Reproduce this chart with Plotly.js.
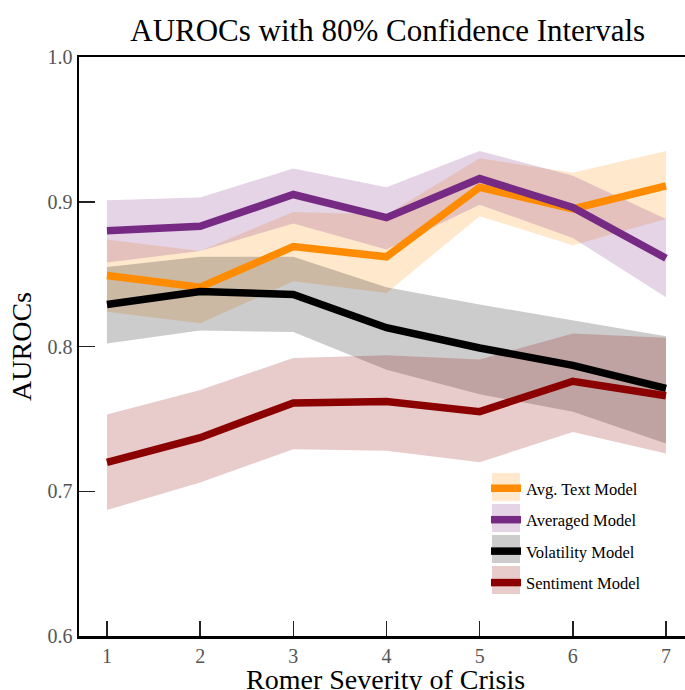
<!DOCTYPE html>
<html><head><meta charset="utf-8">
<script src="https://cdn.plot.ly/plotly-3.0.1.min.js"></script>
<style>html,body{margin:0;padding:0;background:#fff;} #chart{width:685px;height:690px;}</style>
</head><body><div id="chart"></div>
<script>
// ---- data ----
const severity = [1, 2, 3, 4, 5, 6, 7];
const seriesNames = ["Avg. Text Model", "Averaged Model", "Volatility Model", "Sentiment Model"];

const avgTextMean  = [0.849, 0.841, 0.869, 0.862, 0.910, 0.895, 0.911];
const avgTextLow   = [0.824, 0.816, 0.845, 0.837, 0.890, 0.870, 0.888];
const avgTextHigh  = [0.874, 0.866, 0.893, 0.891, 0.930, 0.920, 0.935];

const averagedMean = [0.880, 0.883, 0.905, 0.889, 0.916, 0.896, 0.861];
const averagedLow  = [0.858, 0.866, 0.885, 0.867, 0.898, 0.875, 0.834];
const averagedHigh = [0.901, 0.903, 0.923, 0.910, 0.935, 0.918, 0.888];

const volMean      = [0.829, 0.838, 0.836, 0.813, 0.799, 0.787, 0.771];
const volLow       = [0.802, 0.811, 0.810, 0.784, 0.767, 0.755, 0.733];
const volHigh      = [0.855, 0.862, 0.862, 0.841, 0.829, 0.818, 0.807];

const sentMean     = [0.720, 0.737, 0.761, 0.762, 0.755, 0.776, 0.766];
const sentLow      = [0.687, 0.706, 0.729, 0.728, 0.720, 0.741, 0.726];
const sentHigh     = [0.753, 0.770, 0.792, 0.794, 0.791, 0.809, 0.806];

const yTicks = [0.6, 0.7, 0.8, 0.9, 1.0];
const xTicks = [1, 2, 3, 4, 5, 6, 7];
const xTitle = "Romer Severity of Crisis";

// ---- styling ----
const lineColors = ["#ff8c00", "#762a83", "#000000", "#8b0000"];
const bandColors = ["rgba(255,140,0,0.2)", "rgba(118,42,131,0.2)", "rgba(0,0,0,0.2)", "rgba(139,0,0,0.2)"];
const means = [avgTextMean, averagedMean, volMean, sentMean];
const lows = [avgTextLow, averagedLow, volLow, sentLow];
const highs = [avgTextHigh, averagedHigh, volHigh, sentHigh];

const SERIF = "Liberation Serif, Times New Roman, serif";
const W = 685, H = 690, ML = 79, MR = 0, MT = 57, MB = 54;
const PW = W - ML - MR, PH = H - MT - MB;
const px2x = p => (p - ML) / PW;
const px2y = p => (H - MB - p) / PH;

const traces = [];
for (let i = 0; i < 4; i++) {
  traces.push({x: severity, y: lows[i], mode: "lines", line: {width: 0, color: "rgba(0,0,0,0)"},
    showlegend: false, hoverinfo: "skip"});
  traces.push({x: severity, y: highs[i], mode: "lines", line: {width: 0, color: "rgba(0,0,0,0)"},
    fill: "tonexty", fillcolor: bandColors[i], showlegend: false, hoverinfo: "skip"});
}
for (let i = 0; i < 4; i++) {
  traces.push({x: severity, y: means[i], mode: "lines", name: seriesNames[i], legendgroup: "g" + i,
    line: {color: lineColors[i], width: 7.5}});
}

// legend patches (band swatches behind legend line symbols)
const patchTops = [473, 504, 535, 566];
const shapes = patchTops.map((t, i) => ({
  type: "rect", xref: "paper", yref: "paper", layer: "above",
  x0: px2x(492), x1: px2x(520), y0: px2y(t + 28), y1: px2y(t),
  fillcolor: bandColors[i], line: {width: 0}
}));

const layout = {
  width: W, height: H,
  margin: {l: ML, r: MR, t: MT, b: MB, pad: 0},
  paper_bgcolor: "#fff", plot_bgcolor: "#fff",
  font: {family: SERIF, color: "#000"},
  title: {text: "AUROCs with 80% Confidence Intervals", font: {family: SERIF, size: 31, color: "#000"},
    xref: "container", x: 0.566, xanchor: "center", yref: "container", y: 1 - 30 / H, yanchor: "middle"},
  xaxis: {range: [0.7, 7.204], tickvals: xTicks, ticktext: xTicks.map(String),
    ticks: "inside", ticklen: 15, tickwidth: 1.5, tickcolor: "#222",
    showline: true, mirror: true, linewidth: 2.5, linecolor: "#000",
    showgrid: false, zeroline: false,
    tickfont: {family: SERIF, size: 20, color: "#555"}},
  yaxis: {range: [0.6, 1.0], tickvals: yTicks, ticktext: yTicks.map(v => v.toFixed(1)),
    ticks: "inside", ticklen: 16, tickwidth: 1.5, tickcolor: "#222",
    showline: true, linewidth: 2.5, linecolor: "#000",
    showgrid: false, zeroline: false,
    tickfont: {family: SERIF, size: 20, color: "#555"},
    title: {text: "AUROCs", font: {family: SERIF, size: 28, color: "#000"}, standoff: 8}},
  annotations: [{text: xTitle, xref: "paper", yref: "paper", x: px2x(385), y: px2y(679),
    xanchor: "center", yanchor: "middle", showarrow: false,
    font: {family: SERIF, size: 28, color: "#000"}}],
  showlegend: true,
  legend: {x: px2x(486), xanchor: "left", y: px2y(471), yanchor: "top",
    bgcolor: "rgba(0,0,0,0)", borderwidth: 0, traceorder: "grouped", tracegroupgap: 7,
    itemwidth: 30, font: {family: SERIF, size: 16.5, color: "#000"}},
  shapes: shapes
};

Plotly.newPlot("chart", traces, layout, {displayModeBar: false, staticPlot: true});
</script>
</body></html>
